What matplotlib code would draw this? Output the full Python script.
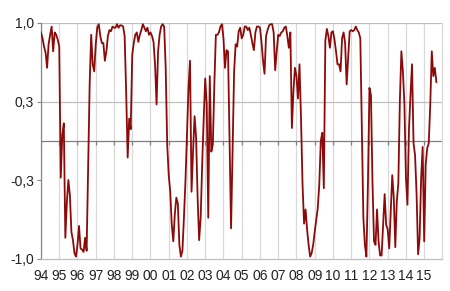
import numpy as np
import matplotlib.pyplot as plt

# monthly values, Jan 1994 onwards
corr = [
    0.92, 0.87, 0.80, 0.75, 0.62, 0.82, 0.90, 0.97, 0.76, 0.92, 0.90, 0.86,  # 94
    0.80, -0.31, 0.05, 0.15, -0.82, -0.52, -0.33, -0.46, -0.77, -0.84, -0.95, -0.98,  # 95
    -0.88, -0.72, -0.91, -0.92, -0.94, -0.82, -0.93, -0.23, 0.48, 0.90, 0.65, 0.59,  # 96
    0.82, 0.96, 0.99, 0.89, 0.83, 0.83, 0.68, 0.76, 0.89, 0.94, 0.93, 0.97,  # 97
    0.96, 0.96, 0.99, 0.96, 0.98, 0.98, 0.97, 0.89, 0.42, -0.14, 0.19, 0.10,  # 98
    0.73, 0.83, 0.90, 0.92, 0.84, 0.90, 0.94, 0.99, 0.96, 0.93, 0.96, 0.90,  # 99
    0.92, 0.89, 0.84, 0.65, 0.31, 0.76, 0.90, 0.97, 0.99, 0.97, 0.62, -0.03,  # 00
    -0.29, -0.43, -0.71, -0.85, -0.62, -0.48, -0.53, -0.88, -0.98, -0.93, -0.65, -0.34,  # 01
    0.05, 0.45, 0.68, -0.43, -0.09, 0.21, 0.03, -0.48, -0.84, -0.65, -0.20, 0.19,  # 02
    0.53, 0.31, -0.65, 0.55, -0.09, -0.03, 0.48, 0.90, 0.90, 0.92, 0.97, 0.99,  # 03
    0.87, 0.62, 0.77, 0.76, 0.00, -0.74, -0.09, 0.59, 0.82, 0.80, 0.93, 0.96,  # 04
    0.87, 0.90, 0.97, 0.97, 0.94, 0.96, 0.90, 0.83, 0.77, 0.92, 0.97, 0.97,  # 05
    0.96, 0.84, 0.68, 0.57, 0.89, 0.94, 0.98, 0.99, 0.99, 0.92, 0.60, 0.76,  # 06
    0.90, 0.89, 0.92, 0.93, 0.96, 0.97, 0.89, 0.79, 0.92, 0.11, 0.42, 0.62,  # 07
    0.55, 0.36, 0.65, 0.19, -0.37, -0.70, -0.58, -0.75, -0.88, -0.98, -0.95, -0.88,  # 08
    -0.77, -0.67, -0.57, -0.37, 0.00, 0.07, -0.40, 0.85, 0.95, 0.89, 0.79, 0.92,  # 09
    0.93, 0.86, 0.76, 0.65, 0.65, 0.59, 0.87, 0.92, 0.83, 0.48, 0.70, 0.93,  # 10
    0.94, 0.93, 0.94, 0.97, 0.94, 0.92, 0.87, 0.11, -0.65, -0.88, -0.98, -0.37,  # 11
    0.45, 0.39, -0.35, -0.85, -0.88, -0.58, -0.85, -0.97, -0.97, -0.71, -0.45, -0.71,  # 12
    -0.75, -0.91, -0.60, -0.29, -0.48, -0.90, -0.51, -0.36, 0.34, 0.76, 0.59, 0.31,  # 13
    -0.31, -0.54, 0.10, 0.39, 0.65, -0.02, -0.12, -0.45, -0.96, -0.82, -0.31, -0.05,  # 14
    -0.85, -0.20, -0.06, -0.02, 0.31, 0.76, 0.55, 0.62, 0.50,  # 15
]
start_year = 1994
year_labels = ['94', '95', '96', '97', '98', '99', '00', '01', '02', '03', '04',
               '05', '06', '07', '08', '09', '10', '11', '12', '13', '14', '15']
ytick_vals = [-1, -1 / 3, 1 / 3, 1]
ytick_labels = ['-1,0', '-0,3', '0,3', '1,0']

plt.rcParams['font.family'] = ['Liberation Sans', 'DejaVu Sans']

t = start_year + np.arange(len(corr)) / 12
years = start_year + np.arange(len(year_labels))

fig = plt.figure(figsize=(4.5, 2.91), dpi=100)
ax = fig.add_axes([41 / 450, 1 - 259 / 291, 400.7 / 450, 236 / 291])

ax.set_xlim(start_year, start_year + len(year_labels) - 0.04)
ax.set_ylim(-1, 1)

for y in years:
    ax.axvline(y, color='#d9d9d9', lw=0.9, zorder=0)
for v in [1 / 3, 1]:
    ax.axhline(v, color='#bfbfbf', lw=0.9, zorder=0)
ax.axhline(0, color='#7f7f7f', lw=0.9, zorder=1)
# small tick marks on the zero line (axis crossing)
ax.plot(years, np.zeros(len(years)), ls='none', marker=3, ms=3,
        mew=0.9, color='#7f7f7f', zorder=1)

ax.plot(t, corr, color='#8b0a0a', lw=1.3, zorder=3)

ax.set_xticks(years)
ax.set_xticklabels(year_labels)
ax.set_yticks(ytick_vals)
ax.set_yticklabels(ytick_labels)
ax.tick_params(axis='x', length=0, pad=7, labelsize=10, colors='#222222')
ax.tick_params(axis='y', length=3, width=0.8, color='#888888', pad=2,
               labelsize=10, labelcolor='#222222')

ax.spines['top'].set_visible(False)
ax.spines['right'].set_color('#d9d9d9')
ax.spines['left'].set_color('#888888')
ax.spines['bottom'].set_color('#bfbfbf')
for s in ax.spines.values():
    s.set_linewidth(0.9)

fig.savefig('out.png', dpi=100)
